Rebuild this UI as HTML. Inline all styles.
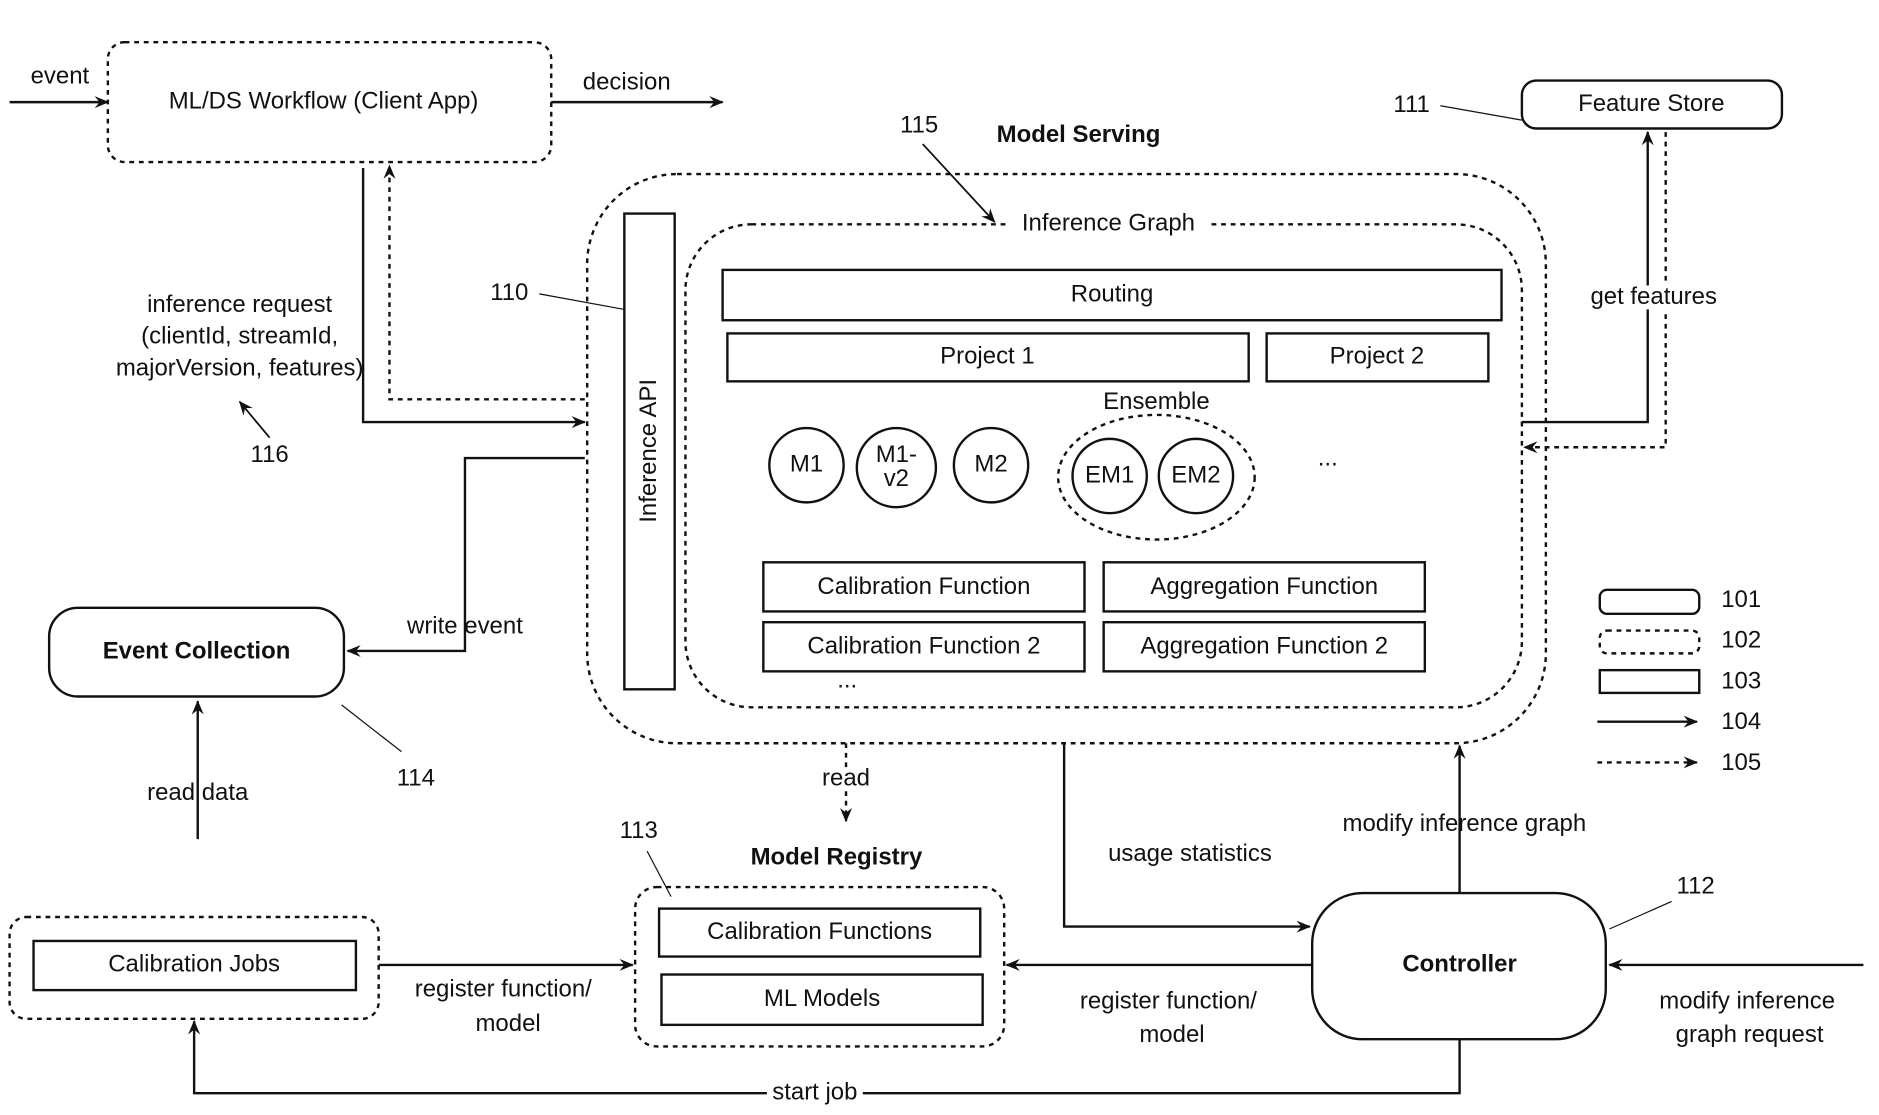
<!DOCTYPE html>
<html><head><meta charset="utf-8"><style>
html,body{margin:0;padding:0;background:#fff}
svg{display:block}
text{font-family:"Liberation Sans",sans-serif;font-size:20px;fill:#111;text-anchor:middle;dominant-baseline:middle}
.b{font-weight:bold}
.s{fill:none;stroke:#111;stroke-width:2}
.d{fill:none;stroke:#111;stroke-width:2;stroke-dasharray:4,4}
</style></head><body>
<svg width="1879" height="1115" viewBox="0 0 1568 930" xmlns="http://www.w3.org/2000/svg">
<defs><marker id="a" markerWidth="12" markerHeight="10" refX="11" refY="5" orient="auto" markerUnits="userSpaceOnUse"><path d="M0,0 L12,5 L0,10 L4,5 z" fill="#111"/></marker></defs>
<rect class="d" x="90" y="35" width="370" height="100" rx="14"/>
<text x="270" y="85">ML/DS Workflow (Client App)</text>
<line class="s" x1="8" y1="85" x2="90" y2="85" marker-end="url(#a)"/><text x="50" y="64">event</text>
<line class="s" x1="460" y1="85" x2="603" y2="85" marker-end="url(#a)"/><text x="523" y="69">decision</text>
<rect class="s" x="1270" y="67" width="217" height="40" rx="12"/><text x="1378" y="87">Feature Store</text>
<text x="1178" y="88">111</text><line class="s" x1="1202" y1="88" x2="1270" y2="100" style="stroke-width:1"/>
<text class="b" x="900" y="113">Model Serving</text>
<text x="767" y="105">115</text><line class="s" x1="770" y1="120" x2="830" y2="185" style="stroke-width:1.5" marker-end="url(#a)"/>
<rect class="d" x="490" y="145" width="800" height="475" rx="75"/>
<rect class="s" x="521" y="178" width="42" height="397"/>
<text x="542" y="376" transform="rotate(-90 542 376)">Inference API</text>
<rect class="d" x="572" y="187" width="698" height="403" rx="55"/>
<rect x="840" y="177" width="170" height="20" fill="#fff"/><text x="925" y="187">Inference Graph</text>
<text x="425" y="245">110</text><line class="s" x1="450" y1="245" x2="521" y2="258" style="stroke-width:1"/>
<rect class="s" x="603" y="225" width="650" height="42"/><text x="928" y="246">Routing</text>
<rect class="s" x="607" y="278" width="435" height="40"/><text x="824" y="298">Project 1</text>
<rect class="s" x="1057" y="278" width="185" height="40"/><text x="1149" y="298">Project 2</text>
<ellipse class="d" cx="965" cy="398" rx="82" ry="52"/>
<text x="965" y="336">Ensemble</text>
<circle class="s" cx="673" cy="388" r="31"/><text x="673" y="388">M1</text>
<circle class="s" cx="748" cy="390" r="33"/><text x="748" y="380">M1-</text><text x="748" y="400">v2</text>
<circle class="s" cx="827" cy="388" r="31"/><text x="827" y="388">M2</text>
<circle class="s" cx="926" cy="397" r="31"/><text x="926" y="397">EM1</text>
<circle class="s" cx="998" cy="397" r="31"/><text x="998" y="397">EM2</text>
<text x="1108" y="383">...</text>
<rect class="s" x="637" y="469" width="268" height="41"/><text x="771" y="490">Calibration Function</text>
<rect class="s" x="921" y="469" width="268" height="41"/><text x="1055" y="490">Aggregation Function</text>
<rect class="s" x="637" y="519" width="268" height="41"/><text x="771" y="540">Calibration Function 2</text>
<rect class="s" x="921" y="519" width="268" height="41"/><text x="1055" y="540">Aggregation Function 2</text>
<text x="707" y="568">...</text>
<text x="200" y="255">inference request</text><text x="200" y="281">(clientId, streamId,</text><text x="200" y="308">majorVersion, features)</text>
<polyline class="s" points="303,140 303,352 488,352" marker-end="url(#a)"/>
<polyline class="d" points="488,333 325,333 325,138" marker-end="url(#a)"/>
<text x="225" y="380">116</text><line class="s" x1="225" y1="365" x2="200" y2="335" style="stroke-width:1.5" marker-end="url(#a)"/>
<polyline class="s" points="488,382 388,382 388,543 290,543" marker-end="url(#a)"/><text x="388" y="523">write event</text>
<rect class="s" x="41" y="507" width="246" height="74" rx="24"/><text class="b" x="164" y="544">Event Collection</text>
<text x="347" y="650">114</text><line class="s" x1="335" y1="627" x2="285" y2="588" style="stroke-width:1"/>
<line class="s" x1="165" y1="700" x2="165" y2="585" marker-end="url(#a)"/><text x="165" y="662">read data</text>
<rect class="d" x="8" y="765" width="308" height="85" rx="14"/>
<rect class="s" x="28" y="785" width="269" height="41"/><text x="162" y="805">Calibration Jobs</text>
<line class="s" x1="316" y1="805" x2="528" y2="805" marker-end="url(#a)"/><text x="420" y="826">register function/</text><text x="424" y="855">model</text>
<text x="533" y="694">113</text><line class="s" x1="540" y1="710" x2="560" y2="748" style="stroke-width:1"/>
<text class="b" x="698" y="716">Model Registry</text>
<rect class="d" x="530" y="740" width="308" height="133" rx="18"/>
<rect class="s" x="550" y="758" width="268" height="40"/><text x="684" y="778">Calibration Functions</text>
<rect class="s" x="552" y="813" width="268" height="42"/><text x="686" y="834">ML Models</text>
<line class="d" x1="706" y1="620" x2="706" y2="685" marker-end="url(#a)"/><rect x="685" y="640" width="42" height="20" fill="#fff"/><text x="706" y="650">read</text>
<polyline class="s" points="888,620 888,773 1093,773" marker-end="url(#a)"/><text x="993" y="713">usage statistics</text>
<rect class="s" x="1095" y="745" width="245" height="122" rx="42"/><text class="b" x="1218" y="805">Controller</text>
<line class="s" x1="1218" y1="745" x2="1218" y2="622" marker-end="url(#a)"/><text x="1222" y="688">modify inference graph</text>
<text x="1415" y="740">112</text><line class="s" x1="1395" y1="752" x2="1343" y2="775" style="stroke-width:1"/>
<line class="s" x1="1095" y1="805" x2="840" y2="805" marker-end="url(#a)"/><text x="975" y="836">register function/</text><text x="978" y="864">model</text>
<line class="s" x1="1555" y1="805" x2="1343" y2="805" marker-end="url(#a)"/><text x="1458" y="836">modify inference</text><text x="1460" y="864">graph request</text>
<polyline class="s" points="1218,867 1218,912 162,912 162,852" marker-end="url(#a)"/><rect x="640" y="902" width="80" height="20" fill="#fff"/><text x="680" y="912">start job</text>
<polyline class="s" points="1270,352 1375,352 1375,110" marker-end="url(#a)"/>
<polyline class="d" points="1390,110 1390,373 1272,373" marker-end="url(#a)"/>
<rect x="1318" y="238" width="124" height="20" fill="#fff"/><text x="1380" y="248">get features</text>
<rect class="s" x="1335" y="492" width="83" height="20" rx="6"/><text x="1453" y="501">101</text>
<rect class="d" x="1335" y="526" width="83" height="19" rx="6"/><text x="1453" y="535">102</text>
<rect class="s" x="1335" y="559" width="83" height="19"/><text x="1453" y="569">103</text>
<line class="s" x1="1333" y1="602" x2="1416" y2="602" marker-end="url(#a)"/><text x="1453" y="603">104</text>
<line class="d" x1="1333" y1="636" x2="1416" y2="636" marker-end="url(#a)"/><text x="1453" y="637">105</text>
</svg>
</body></html>
